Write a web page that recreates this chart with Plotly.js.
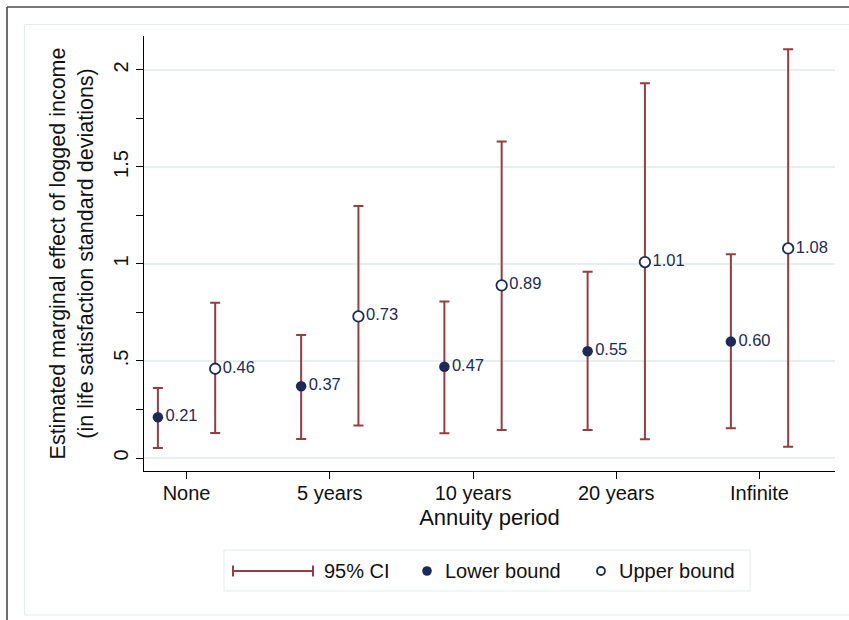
<!DOCTYPE html>
<html>
<head>
<meta charset="utf-8">
<script src="https://cdn.plot.ly/plotly-3.0.1.min.js"></script>
<style>
  html, body { margin: 0; padding: 0; background: #ffffff; }
  #chart { width: 849px; height: 620px; }
</style>
</head>
<body>
<div id="chart"></div>
<script>
// Annuity periods on the x axis
const categories = ['None', '5 years', '10 years', '20 years', 'Infinite'];

// Lower-bound estimates with their 95% confidence limits
const lowerEst  = [0.21, 0.37, 0.47, 0.55, 0.60];
const lowerCiLo = [0.052, 0.098, 0.127, 0.144, 0.153];
const lowerCiHi = [0.361, 0.634, 0.806, 0.960, 1.050];

// Upper-bound estimates with their 95% confidence limits
const upperEst  = [0.46, 0.73, 0.89, 1.01, 1.08];
const upperCiLo = [0.129, 0.167, 0.144, 0.096, 0.058];
const upperCiHi = [0.800, 1.299, 1.631, 1.931, 2.107];

// Y-axis tick labels
const yTickVals = [0, 0.5, 1, 1.5, 2];
const yTickText = ['0', '.5', '1', '1.5', '2'];

const FONT = 'Liberation Sans, Arial, Helvetica, sans-serif';
const NAVY = '#1c2b55';
const CI_RED = '#983c42';
const GRID = '#e6eef0';

const W = 849, H = 620;
const M = { l: 144, r: 14, t: 36, b: 149 };
const plotW = W - M.l - M.r, plotH = H - M.t - M.b;
// pixel -> paper helpers for the decorative frame and legend
const px = v => (v - M.l) / plotW;
const py = v => (H - M.b - v) / plotH;

const idx = categories.map((_, i) => i);
const fmt = v => v.toFixed(2);

function series(offset, est, lo, hi, filled) {
  return {
    type: 'scatter',
    mode: 'markers+text',
    x: idx.map(i => i + offset),
    y: est,
    text: est.map(fmt),
    textposition: 'middle right',
    textfont: { family: FONT, size: 16.5, color: NAVY },
    cliponaxis: false,
    marker: {
      size: 10.5,
      color: filled ? NAVY : '#ffffff',
      line: { color: NAVY, width: filled ? 0 : 1.8 }
    },
    error_y: {
      type: 'data',
      symmetric: false,
      array: hi.map((h, i) => h - est[i]),
      arrayminus: lo.map((l, i) => est[i] - l),
      color: CI_RED,
      thickness: 2,
      width: 5
    },
    hoverinfo: 'skip',
    showlegend: false
  };
}

const traces = [
  series(-0.2, lowerEst, lowerCiLo, lowerCiHi, true),
  series(0.2, upperEst, upperCiLo, upperCiHi, false)
];

// Outer frame and legend box drawn in paper space
const legY = 571;
const shapes = [
  // dark frame edges (top and left)
  { type: 'line', xref: 'paper', yref: 'paper', x0: px(7), x1: px(860), y0: py(7), y1: py(7),
    line: { color: '#4a4a4a', width: 1.6 }, layer: 'below' },
  { type: 'line', xref: 'paper', yref: 'paper', x0: px(7), x1: px(7), y0: py(7), y1: py(630),
    line: { color: '#4a4a4a', width: 1.6 }, layer: 'below' },
  // light inner border
  { type: 'rect', xref: 'paper', yref: 'paper', x0: px(24.5), x1: px(870), y0: py(24.5), y1: py(615),
    line: { color: '#e4ecee', width: 1 }, layer: 'below' },
  // legend box
  { type: 'rect', xref: 'paper', yref: 'paper', x0: px(224), x1: px(750), y0: py(550), y1: py(591),
    line: { color: '#e2eaec', width: 1 }, fillcolor: '#ffffff', layer: 'below' },
  // legend key: capped CI line
  { type: 'line', xref: 'paper', yref: 'paper', x0: px(233), x1: px(313), y0: py(legY), y1: py(legY),
    line: { color: CI_RED, width: 2 } },
  { type: 'line', xref: 'paper', yref: 'paper', x0: px(233), x1: px(233), y0: py(legY - 5.5), y1: py(legY + 5.5),
    line: { color: CI_RED, width: 2 } },
  { type: 'line', xref: 'paper', yref: 'paper', x0: px(313), x1: px(313), y0: py(legY - 5.5), y1: py(legY + 5.5),
    line: { color: CI_RED, width: 2 } },
  // legend key: filled marker
  { type: 'circle', xref: 'paper', yref: 'paper', x0: px(427 - 4.8), x1: px(427 + 4.8), y0: py(legY - 4.8), y1: py(legY + 4.8),
    line: { color: NAVY, width: 0 }, fillcolor: NAVY },
  // legend key: hollow marker
  { type: 'circle', xref: 'paper', yref: 'paper', x0: px(601 - 4), x1: px(601 + 4), y0: py(legY - 4), y1: py(legY + 4),
    line: { color: NAVY, width: 1.8 }, fillcolor: '#ffffff' }
];

const legendText = (x, t) => ({
  xref: 'paper', yref: 'paper', x: px(x), y: py(legY), xanchor: 'left', yanchor: 'middle',
  text: t, showarrow: false, font: { family: FONT, size: 20, color: '#111111' }
});

const annotations = [
  legendText(322, '95% CI'),
  legendText(443, 'Lower bound'),
  legendText(617, 'Upper bound')
];

const layout = {
  width: W,
  height: H,
  autosize: false,
  margin: M,
  paper_bgcolor: '#ffffff',
  plot_bgcolor: '#ffffff',
  font: { family: FONT, size: 20, color: '#111111' },
  showlegend: false,
  xaxis: {
    range: [-0.297, 4.527],
    tickvals: idx,
    ticktext: categories,
    ticks: 'outside',
    ticklen: 7,
    tickwidth: 1,
    tickcolor: '#000000',
    ticklabelstandoff: -3,
    showgrid: false,
    zeroline: false,
    showline: true,
    linecolor: '#000000',
    linewidth: 1.2,
    tickfont: { family: FONT, size: 20, color: '#111111' },
    title: { text: 'Annuity period', font: { family: FONT, size: 22, color: '#111111' }, standoff: 6 },
    automargin: false,
    fixedrange: true
  },
  yaxis: {
    range: [-0.067, 2.175],
    tickvals: yTickVals,
    ticktext: yTickText,
    tickangle: -90,
    ticks: 'outside',
    ticklen: 7,
    tickwidth: 1,
    tickcolor: '#000000',
    minor: { dtick: 0.25, tick0: 0, ticks: 'outside', ticklen: 7, tickwidth: 1, tickcolor: '#000000', showgrid: false },
    showgrid: true,
    gridcolor: GRID,
    gridwidth: 1.5,
    zeroline: false,
    showline: true,
    linecolor: '#000000',
    linewidth: 1.2,
    tickfont: { family: FONT, size: 20, color: '#111111' },
    title: {
      text: 'Estimated marginal effect of logged income<br>(in life satisfaction standard deviations)',
      font: { family: FONT, size: 21.5, color: '#111111' },
      standoff: 10
    },
    automargin: false,
    fixedrange: true
  },
  shapes: shapes,
  annotations: annotations
};

Plotly.newPlot('chart', traces, layout, { staticPlot: true, displayModeBar: false });
</script>
</body>
</html>
